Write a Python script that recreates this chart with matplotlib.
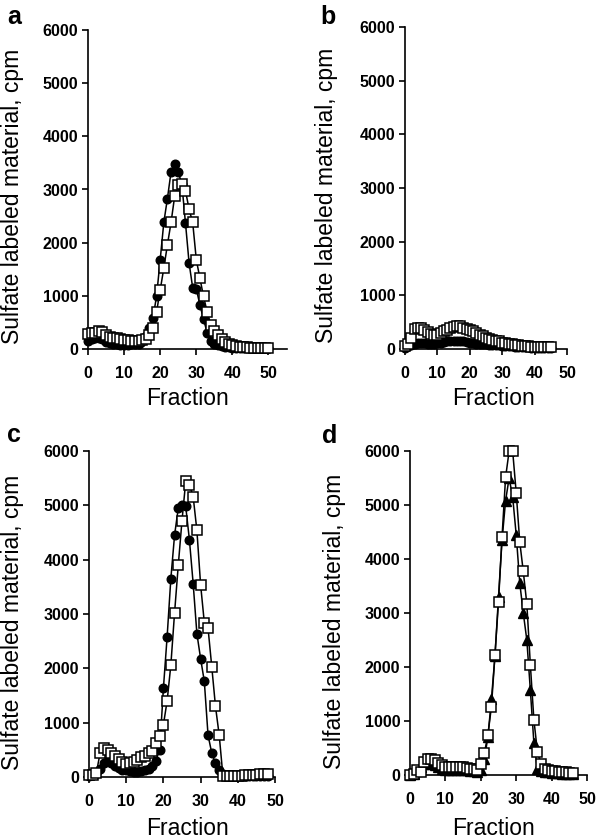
import matplotlib
matplotlib.use('Agg')
import matplotlib.pyplot as plt

plt.rcParams['font.family'] = ['Liberation Sans', 'DejaVu Sans']

# ---- data (fraction number -> cpm) ----
a_frac = list(range(0, 51))
a_circle = [150, 180, 200, 200, 180, 140, 110, 100, 90, 80, 80, 80, 90, 90, 100, 150, 250, 400, 580, 1000,
            1680, 2380, 2830, 3330, 3480, 3330, 3100, 2370, 1620, 1150, 1130, 830, 560, 310, 150, 100, 70, 50,
            40, 30, 20, 15, 10, 10, 10, 10, 10, 10, 10, 10, 10]
a_square = [280, 300, 310, 330, 320, 260, 230, 210, 200, 180, 170, 160, 150, 150, 150, 160, 190, 260, 390, 700,
            1110, 1520, 1960, 2380, 2870, 3080, 3100, 2980, 2630, 2380, 1680, 1330, 990, 700, 460, 340, 260, 190,
            140, 100, 70, 50, 40, 30, 30, 20, 20, 20, 20, 20, 20]

b_frac = list(range(0, 46))
b_square = [50, 100, 200, 380, 400, 400, 350, 320, 280, 260, 270, 300, 330, 360, 390, 410, 420, 420, 400, 380,
            350, 330, 300, 270, 240, 210, 190, 170, 150, 140, 120, 110, 100, 90, 80, 70, 60, 50, 50, 40, 40,
            30, 30, 30, 30, 30]
b_circle = [20, 50, 80, 100, 110, 120, 110, 100, 100, 100, 110, 120, 130, 140, 150, 150, 150, 140, 140, 130,
            120, 110, 100, 100, 90, 90, 80, 80, 70, 70, 60, 60, 50, 50, 40, 40, 30, 30, 30, 20, 20, 20, 20,
            10, 10, 10]

c_frac = list(range(0, 49))
c_circle = [20, 40, 80, 150, 250, 300, 260, 200, 160, 130, 120, 110, 100, 100, 110, 120, 150, 200, 300, 500,
            1630, 2580, 3650, 4450, 4950, 5000, 4980, 4360, 3560, 2640, 2180, 1760, 770, 440, 250, 130, 60, 30,
            20, 20, 20, 20, 20, 20, 20, 20, 20, 20, 20]
c_square = [30, 40, 80, 450, 530, 500, 440, 380, 330, 270, 240, 250, 280, 320, 360, 380, 450, 470, 620, 760,
            960, 1400, 2060, 3020, 3900, 4720, 5440, 5380, 5160, 4540, 3540, 2840, 2740, 2030, 1300, 770, 20, 10,
            10, 20, 20, 20, 30, 30, 40, 40, 50, 50, 50]

d_frac = list(range(0, 47))
d_square = [0, 20, 100, 60, 250, 300, 300, 270, 230, 180, 150, 150, 140, 140, 140, 140, 130, 120, 110, 100,
            200, 400, 740, 1265, 2220, 3210, 4410, 5510, 6000, 6000, 5230, 4320, 3770, 3170, 2040, 1020, 430,
            200, 120, 100, 80, 70, 60, 60, 50, 40, 30]
d_triangle = [0, 10, 80, 150, 200, 220, 200, 180, 150, 120, 100, 100, 100, 100, 100, 90, 90, 80, 70, 60,
              100, 300, 700, 1400, 2200, 3300, 4350, 5080, 5500, 5150, 4450, 3560, 3000, 2500, 1570, 590, 120,
              80, 60, 50, 40, 30, 30, 20, 20, 20, 10]

W, H = 600, 838
fig = plt.figure(figsize=(W / 100, H / 100), dpi=100)

def px_axes(x0, y_top, x1, y_bot):
    return fig.add_axes([x0 / W, 1 - y_bot / H, (x1 - x0) / W, (y_bot - y_top) / H])

def style(ax, xmax):
    ax.set_xlim(0, xmax)
    ax.set_ylim(0, 6000)
    ax.set_xticks([0, 10, 20, 30, 40, 50])
    ax.set_yticks(range(0, 6001, 1000))
    ax.spines[['top', 'right']].set_visible(False)
    for s in ('left', 'bottom'):
        ax.spines[s].set_linewidth(1.2)
    ax.tick_params(direction='out', length=4, width=1.2, labelsize=11.5)
    ax.tick_params(axis='x', pad=8)
    ax.tick_params(axis='y', pad=3)
    for lb in ax.get_xticklabels() + ax.get_yticklabels():
        lb.set_fontweight('bold')

def filled(ax, x, y, m='o', ms=6.2):
    ax.plot(x, y, color='black', lw=1.1, marker=m, ms=ms, mfc='black', mec='black', clip_on=False, zorder=3)

def open_sq(ax, x, y):
    ax.plot(x, y, color='black', lw=1.1, marker='s', ms=6.8, mfc='white', mec='black', mew=1.1,
            clip_on=False, zorder=4)

ax_a = px_axes(88, 30, 88 + 55 * 3.61, 349)
filled(ax_a, a_frac, a_circle)
open_sq(ax_a, a_frac, a_square)
style(ax_a, 55)

ax_b = px_axes(405, 27, 567, 349)
filled(ax_b, b_frac, b_circle)
open_sq(ax_b, b_frac, b_square)
style(ax_b, 50)

ax_c = px_axes(89, 451, 275, 777)
filled(ax_c, c_frac, c_circle)
open_sq(ax_c, c_frac, c_square)
style(ax_c, 50)

ax_d = px_axes(410, 451, 587, 775)
open_sq(ax_d, d_frac, d_square)
filled(ax_d, d_frac, d_triangle, m='^', ms=6.5)
style(ax_d, 50)

ylab = 'Sulfate labeled material, cpm'
for (x, y) in ((13, 196), (326, 195), (13, 622), (335, 621)):
    fig.text(x / W, 1 - y / H, ylab, rotation=90, ha='center', va='center', fontsize=16.5)
for (x, y) in ((188, 398), (494, 398), (188, 828), (494, 828)):
    fig.text(x / W, 1 - y / H, 'Fraction', ha='center', va='center', fontsize=16.5)
for (x, y, t) in ((7, 24, 'a'), (320, 24, 'b'), (7, 442, 'c'), (322, 443, 'd')):
    fig.text(x / W, 1 - y / H, t, ha='left', va='baseline', fontsize=18, fontweight='bold')

fig.savefig('out.png', dpi=100)
